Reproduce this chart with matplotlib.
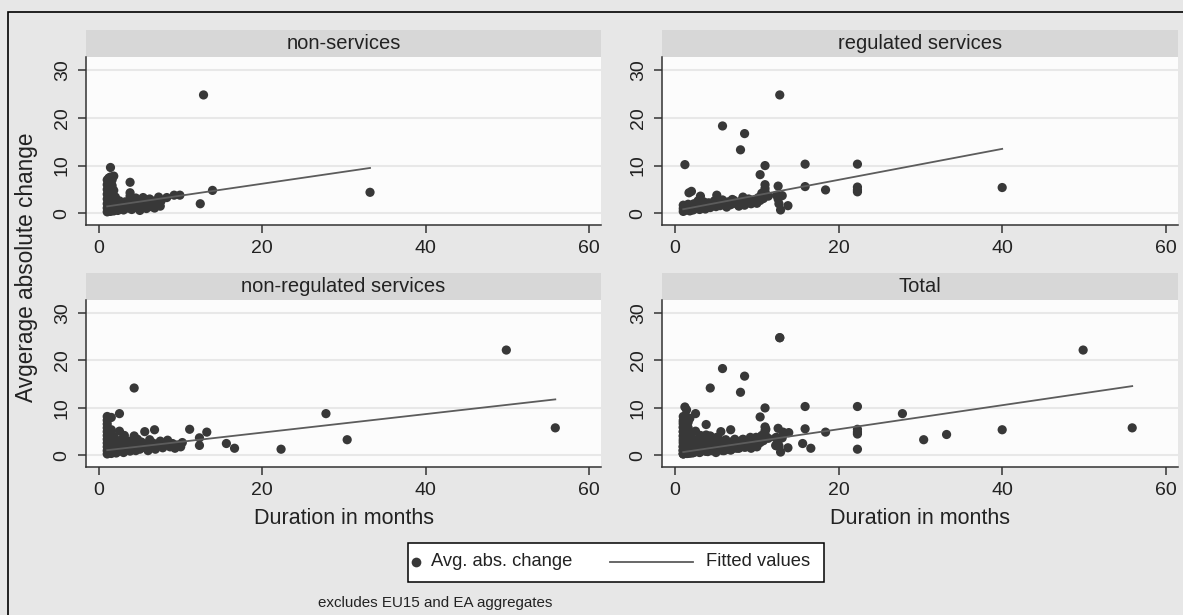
"""Avg. absolute price change vs. duration, four sectors (Stata-style panel scatter)."""

import matplotlib
matplotlib.use("Agg")
import matplotlib.pyplot as plt
from matplotlib.patches import Rectangle
from matplotlib.lines import Line2D

plt.rcParams["font.family"] = ["Liberation Sans", "DejaVu Sans"]

panel_titles = ["non-services", "regulated services", "non-regulated services", "Total"]
legend_labels = ["Avg. abs. change", "Fitted values"]

# non-services
ns_x = [1.0, 1.0, 1.0, 1.0, 1.0, 1.0, 1.0, 1.0,
        1.2, 1.2, 1.2, 1.2, 1.2, 1.2, 1.2, 1.2,
        1.4, 1.4, 1.4, 1.4, 1.4, 1.4, 1.4, 1.4, 1.4,
        1.6, 1.6, 1.6, 1.6, 1.6, 1.6,
        1.8, 1.8, 1.8, 1.8, 1.8,
        2.0, 2.0, 2.0, 2.3, 2.3, 2.5, 2.6, 2.8, 3.0, 3.0, 3.2, 3.5,
        3.8, 3.8, 3.8, 4.0, 4.0, 4.2, 4.5, 4.6, 4.8,
        5.0, 5.2, 5.4, 5.5, 5.8, 6.0, 6.2, 6.4, 6.5,
        6.8, 7.0, 7.3, 7.5, 7.6, 8.3, 9.2, 9.9,
        12.4, 12.8, 13.9, 33.2]
ns_y = [0.3, 1.1, 2.0, 3.0, 4.0, 5.0, 6.0, 7.0,
        0.6, 1.5, 2.5, 3.5, 4.5, 5.5, 6.5, 7.4,
        0.4, 1.2, 2.2, 3.2, 4.2, 5.2, 6.2, 7.6, 9.6,
        0.8, 1.8, 2.8, 3.8, 5.8, 7.0,
        0.5, 1.4, 2.4, 4.8, 7.8,
        0.9, 2.0, 3.4, 0.6, 1.6, 2.6, 1.0, 2.0, 0.7, 1.5, 2.4, 1.1,
        4.3, 3.6, 6.5, 0.8, 2.8, 1.8, 3.2, 1.2, 2.3,
        0.6, 1.6, 3.3, 2.5, 1.0, 2.0, 3.0, 1.4, 2.6,
        1.1, 2.2, 3.4, 1.5, 2.6, 3.3, 3.8, 3.8,
        2.0, 24.8, 4.8, 4.4]

# regulated services
rs_x = [1.0, 1.0, 1.0, 1.2, 1.3, 1.5, 1.6, 1.7, 2.0, 1.8, 2.0, 2.2, 2.3, 2.5, 2.7,
        2.8, 3.0, 3.1, 3.2, 3.4, 3.5, 3.7, 3.9, 4.1, 4.3, 4.5, 4.8, 5.0, 5.1, 5.3,
        5.5, 5.8, 6.0, 6.3, 6.5, 6.8, 7.0, 7.2, 7.5, 7.8, 8.0, 8.3, 8.5, 8.8, 9.0,
        9.3, 9.6, 10.0, 10.2, 10.4, 10.6, 10.8, 11.0, 11.4,
        12.8, 5.8, 8.5, 8.0, 1.2, 11.0, 15.9, 22.3, 10.4, 11.0, 11.0, 12.6, 15.9,
        18.4, 22.3, 22.3, 22.3, 40.0, 13.1, 12.6, 12.7, 12.9, 13.8, 12.4]
rs_y = [0.4, 1.0, 1.7, 0.6, 1.3, 0.8, 1.9, 4.3, 4.6, 0.5, 1.2, 0.7, 2.0, 1.0, 1.5,
        2.6, 0.8, 3.6, 1.8, 1.2, 2.4, 0.9, 1.6, 2.2, 1.2, 1.8, 2.6, 1.4, 3.8, 2.1,
        1.6, 2.8, 1.9, 1.3, 2.4, 1.8, 2.9, 2.7, 2.0, 1.5, 2.5, 3.4, 1.7, 2.2, 3.0,
        2.0, 2.6, 2.1, 3.3, 2.7, 4.2, 3.1, 4.5, 3.6,
        24.8, 18.3, 16.7, 13.3, 10.2, 10.0, 10.3, 10.3, 8.1, 6.0, 5.2, 5.7, 5.6,
        4.9, 5.5, 4.9, 4.5, 5.4, 3.7, 3.0, 2.0, 0.7, 1.6, 3.8]

# non-regulated services
nrs_x = [1.0, 1.0, 1.0, 1.0, 1.0, 1.0, 1.0, 1.0, 1.0, 1.0, 1.0,
         1.2, 1.2, 1.2, 1.2, 1.2, 1.2, 1.2,
         1.5, 1.5, 1.5, 1.5, 1.5, 1.5, 1.5,
         1.8, 1.8, 1.8, 1.8,
         2.1, 2.1, 2.1, 2.4, 2.4, 2.5, 2.5, 2.7, 2.8, 3.0, 3.1, 3.1, 3.3, 3.5,
         3.6, 3.8, 4.0, 4.2, 4.3, 4.3, 4.5, 4.7, 4.8, 5.0, 5.2, 5.4, 5.6, 5.8,
         6.0, 6.2, 6.4, 6.6, 6.8, 6.9, 7.2, 7.5, 7.8, 8.0, 8.4, 8.7, 9.0, 9.3,
         9.6, 10.0, 10.2,
         11.1, 12.3, 12.3, 13.2, 15.6, 16.6, 22.3, 27.8, 30.4, 49.9, 55.9]
nrs_y = [0.3, 1.0, 1.8, 2.6, 3.4, 4.2, 5.0, 5.8, 6.6, 7.4, 8.2,
         0.6, 1.4, 2.2, 3.0, 3.8, 4.6, 7.8,
         0.4, 1.2, 2.0, 2.8, 3.6, 5.4, 8.0,
         0.8, 1.6, 2.4, 4.0,
         0.5, 1.3, 3.2, 0.9, 2.1, 5.1, 8.8, 1.6, 3.4, 0.6, 2.5, 4.2, 1.2, 2.0,
         3.0, 0.9, 1.7, 2.6, 4.1, 14.2, 1.0, 3.4, 2.0, 1.3, 2.8, 1.7, 5.0, 2.3,
         1.0, 3.3, 1.8, 2.6, 5.4, 1.3, 2.0, 3.0, 1.6, 2.4, 3.2, 1.8, 2.5, 1.5,
         2.2, 1.8, 2.7,
         5.5, 3.7, 2.1, 4.9, 2.5, 1.5, 1.3, 8.8, 3.3, 22.2, 5.8]

# Total = all three groups
tot_x = ns_x + rs_x + nrs_x
tot_y = ns_y + rs_y + nrs_y

# fitted values (end points of the linear fits)
fit_x = [[1.0, 33.2], [1.0, 40.0], [1.0, 55.9], [1.0, 55.9]]
fit_y = [[1.45, 9.5], [0.85, 13.5], [1.1, 11.8], [0.7, 14.6]]

xticks = [0, 20, 40, 60]
yticks = [0, 10, 20, 30]

BG = "#e7e7e7"
STRIP = "#d7d7d7"
PLOTBG = "#fcfcfc"
GRID = "#e8e8e8"
DOT = "#383838"
LINE = "#5c5c5c"
AXC = "#333333"
TXT = "#222222"

W, H = 1183, 615
fig = plt.figure(figsize=(W / 100, H / 100), dpi=100, facecolor=BG)

# outer frame (only left/top edges visible in the crop)
fig.patches.append(Rectangle((8 / W, -0.1), 1.2, 1 - 12 / H + 0.1,
                             transform=fig.transFigure, fill=False,
                             edgecolor="black", linewidth=1.2, zorder=0))

# axes boxes in pixels: (left, top, right, bottom)
boxes = [(86, 57, 601, 225), (662, 57, 1178, 225),
         (86, 300, 601, 467), (662, 300, 1178, 467)]
data = [(ns_x, ns_y), (rs_x, rs_y), (nrs_x, nrs_y), (tot_x, tot_y)]

for i, (l, t, r, b) in enumerate(boxes):
    ax = fig.add_axes([l / W, 1 - b / H, (r - l) / W, (b - t) / H])
    ax.set_facecolor(PLOTBG)
    x, y = data[i]
    ax.scatter(x, y, s=44, color=DOT, edgecolors="none", zorder=3)
    ax.plot(fit_x[i], fit_y[i], color=LINE, linewidth=1.3, zorder=4)

    ax.set_xlim(-1.6, 61.5)
    ax.set_ylim(-2.45, 32.75)
    ax.set_xticks(xticks)
    ax.set_yticks(yticks)
    ax.grid(axis="y", color=GRID, linewidth=1.5, zorder=0)
    ax.set_axisbelow(True)
    for side in ["top", "right"]:
        ax.spines[side].set_visible(False)
    for side in ["left", "bottom"]:
        ax.spines[side].set_color(AXC)
        ax.spines[side].set_linewidth(1.1)
    ax.tick_params(axis="both", direction="out", length=6, width=1.1,
                   color=AXC, labelsize=14, labelcolor=TXT, pad=5)
    for lab in ax.get_yticklabels():
        lab.set_rotation(90)
        lab.set_va("center")

    # strip header
    sh = 27 / (b - t)
    ax.add_patch(Rectangle((0, 1), 1, sh, transform=ax.transAxes,
                           facecolor=STRIP, edgecolor="none", clip_on=False))
    ax.text(0.5, 1 + sh / 2, panel_titles[i], transform=ax.transAxes,
            ha="center", va="center", fontsize=14.5, color=TXT)

    if i >= 2:
        ax.set_xlabel("Duration in months", fontsize=15.5, color=TXT,
                      labelpad=6)

fig.text(27 / W, 1 - 267 / H, "Avgerage absolute change", rotation=90,
         ha="center", va="center", fontsize=16.3, color=TXT)

# legend box drawn by hand (short marker key, long line key as in Stata)
ly = 1 - 562 / H
fig.patches.append(Rectangle((408 / W, 1 - 582 / H), 416 / W, 39 / H,
                             transform=fig.transFigure, facecolor="white",
                             edgecolor="black", linewidth=1.1))
fig.lines.append(Line2D([416 / W], [ly], transform=fig.transFigure,
                        linestyle="none", marker="o", markersize=7,
                        color=DOT, markeredgewidth=0))
fig.lines.append(Line2D([610 / W, 693 / W], [ly, ly], transform=fig.transFigure,
                        color=LINE, linewidth=1.3))
fig.text(431 / W, ly, legend_labels[0], ha="left", va="center",
         fontsize=13.2, color=TXT)
fig.text(706 / W, ly, legend_labels[1], ha="left", va="center",
         fontsize=13.2, color=TXT)

fig.text(318 / W, 1 - 603 / H, "excludes EU15 and EA aggregates",
         ha="left", va="center", fontsize=10.9, color=TXT)

fig.savefig("out.png", dpi=100, facecolor=BG)
